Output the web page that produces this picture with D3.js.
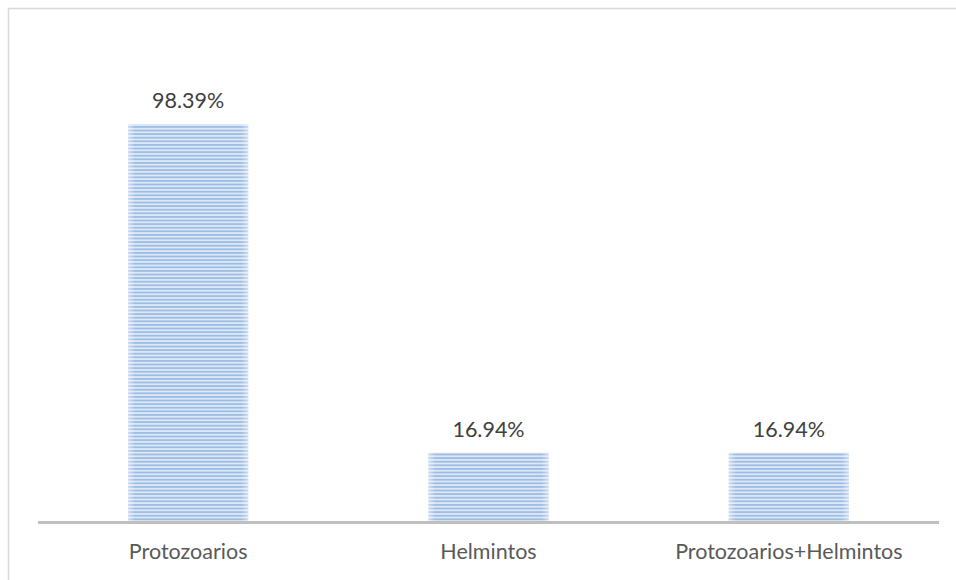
<!DOCTYPE html>
<html>
<head>
<meta charset="utf-8">
<script src="https://cdn.jsdelivr.net/npm/d3@7"></script>
<style>
  html, body { margin: 0; padding: 0; background: #fff; }
  svg { display: block; }
</style>
</head>
<body>
<svg id="chart" width="956" height="580"></svg>
<script>
// Parasite group prevalence (%)
const categories = ["Protozoarios", "Helmintos", "Protozoarios+Helmintos"];
const values = [98.39, 16.94, 16.94];
const valueLabels = ["98.39%", "16.94%", "16.94%"];

const svg = d3.select("#chart");
const W = 956, H = 580;
const plot = { left: 38, right: 939, top: 37, bottom: 521 };
const FONT = "Lato, 'Open Sans', sans-serif";

// Outer chart frame
svg.append("rect")
  .attr("x", 8.5).attr("y", 8.5)
  .attr("width", W + 10).attr("height", H + 10)
  .attr("fill", "#fff")
  .attr("stroke", "#d9d9d9").attr("stroke-width", 1.5);

// Narrow horizontal stripe fill
const defs = svg.append("defs");
const pat = defs.append("pattern")
  .attr("id", "hstripe")
  .attr("patternUnits", "userSpaceOnUse")
  .attr("width", 8).attr("height", 3.6);
pat.append("rect").attr("width", 8).attr("height", 3.6).attr("fill", "#dde8f5");
pat.append("rect").attr("width", 8).attr("height", 1.8).attr("fill", "#9dbde5");

// Soft lighter edges on the bars
const grad = defs.append("linearGradient").attr("id", "edge").attr("x1", 0).attr("x2", 1);
grad.append("stop").attr("offset", 0).attr("stop-color", "#fff").attr("stop-opacity", 0.45);
grad.append("stop").attr("offset", 0.06).attr("stop-color", "#fff").attr("stop-opacity", 0);
grad.append("stop").attr("offset", 0.94).attr("stop-color", "#fff").attr("stop-opacity", 0);
grad.append("stop").attr("offset", 1).attr("stop-color", "#fff").attr("stop-opacity", 0.45);

const x = d3.scaleBand()
  .domain(categories)
  .range([plot.left, plot.right])
  .paddingInner(0.6)
  .paddingOuter(0.3);

const y = d3.scaleLinear()
  .domain([0, 120])
  .range([plot.bottom, plot.top]);

const bars = svg.append("g");
bars.selectAll("rect.bar")
  .data(categories)
  .join("rect")
  .attr("class", "bar")
  .attr("x", d => x(d))
  .attr("y", (d, i) => y(values[i]))
  .attr("width", x.bandwidth())
  .attr("height", (d, i) => y(0) - y(values[i]))
  .attr("fill", "url(#hstripe)");
bars.selectAll("rect.edge")
  .data(categories)
  .join("rect")
  .attr("class", "edge")
  .attr("x", d => x(d))
  .attr("y", (d, i) => y(values[i]))
  .attr("width", x.bandwidth())
  .attr("height", (d, i) => y(0) - y(values[i]))
  .attr("fill", "url(#edge)");

// Category axis
const axis = svg.append("g")
  .attr("transform", `translate(0,${plot.bottom})`)
  .call(d3.axisBottom(x).tickSize(0).tickPadding(23));
axis.select(".domain")
  .attr("stroke", "#bfbfbf").attr("stroke-width", 3)
  .attr("d", `M${plot.left},1.5H${plot.right}`);
axis.selectAll("text")
  .attr("font-family", FONT)
  .attr("font-size", 21.5)
  .attr("fill", "#595959");

// Value labels
svg.append("g").selectAll("text")
  .data(categories)
  .join("text")
  .attr("x", d => x(d) + x.bandwidth() / 2)
  .attr("y", (d, i) => y(values[i]) - 16)
  .attr("text-anchor", "middle")
  .attr("font-family", FONT)
  .attr("font-size", 21.5)
  .attr("fill", "#404040")
  .text((d, i) => valueLabels[i]);
</script>
</body>
</html>
